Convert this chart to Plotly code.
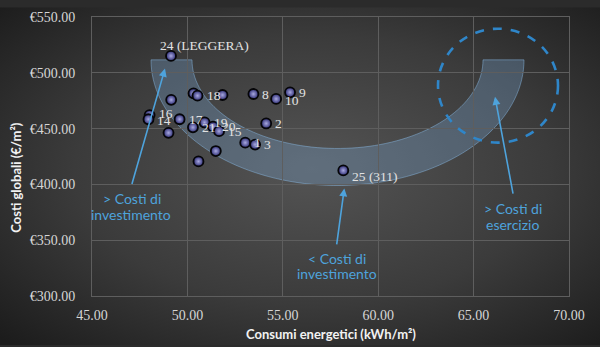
import base64
import numpy as np
import plotly.graph_objects as go

# ---------------- data ----------------
consumi = [49.14, 48.02, 47.96, 49.15, 50.32, 50.53, 51.84, 53.46, 54.65, 55.38, 49.59,
           50.29, 49.01, 50.90, 51.34, 51.66, 54.13, 53.03, 53.55, 51.49, 50.58, 58.17]
costi = [515.1, 462.1, 458.4, 475.8, 481.6, 479.5, 480.1, 481.0, 476.6, 482.5, 458.4,
         451.1, 446.2, 455.5, 451.7, 447.7, 454.6, 437.4, 435.7, 429.9, 420.6, 412.5]
etichette = ["24 (LEGGERA)", "16", "14", "", "", "18", "", "8", "10", "9", "17",
             "21", "", "19", "20", "15", "2", "1", "3", "", "", "25 (311)"]

x_ticks = [45, 50, 55, 60, 65, 70]
y_ticks = [300, 350, 400, 450, 500, 550]
x_ticktext = [f"{v:.2f}" for v in x_ticks]
y_ticktext = [f"€{v:.2f}" for v in y_ticks]

# ---------------- geometry helpers (decorations only) ----------------
W, H = 600, 347
ML, MR, MT, MB = 92, 31, 10, 50.5
PW, PH = W - ML - MR, H - MT - MB
XR, YR = (45, 70), (300, 550)


def px2x(px):
    return XR[0] + (px - ML) / PW * (XR[1] - XR[0])


def px2y(py):
    return YR[1] - (py - MT) / PH * (YR[1] - YR[0])


# background radial gradient via svg image
svg = ('<svg xmlns="http://www.w3.org/2000/svg" width="600" height="347">'
       '<defs><radialGradient id="g" cx="0.52" cy="0.48" r="0.72">'
       '<stop offset="0" stop-color="#545454"/>'
       '<stop offset="0.55" stop-color="#3b3b3b"/>'
       '<stop offset="1" stop-color="#1c1c1c"/>'
       '</radialGradient></defs>'
       '<rect width="600" height="347" fill="url(#g)"/></svg>')
bg_src = "data:image/svg+xml;base64," + base64.b64encode(svg.encode()).decode()

fig = go.Figure()

fig.add_trace(go.Scatter(
    x=consumi, y=costi, mode="markers",
    marker=dict(size=10, color="#2c2c72",
                gradient=dict(type="radial", color="#a8a8e0"),
                line=dict(color="#050508", width=1.8)),
    hoverinfo="skip", showlegend=False,
))

# point labels
label_shift = {"24 (LEGGERA)": (-13, 10), "10": (7, -2), "25 (311)": (7, -6),
               "16": (7, 2), "14": (7, -1)}
annotations = []
for xv, yv, t in zip(consumi, costi, etichette):
    if not t:
        continue
    dx, dy = label_shift.get(t, (7, 0))
    annotations.append(dict(
        x=xv, y=yv, text=t, showarrow=False, xanchor="left", yanchor="middle",
        xshift=dx, yshift=dy,
        font=dict(family="Liberation Serif", size=13.5, color="#e2e2e2")))

# band (half elliptical annulus)
cx = px2x(337.5)
top = px2y(54)
rox, roy = px2x(524) - cx, top - px2y(183)
rix, riy = px2x(483) - cx, top - px2y(145)
t = np.linspace(np.pi, 2 * np.pi, 80)
outer = [(cx + rox * np.cos(a), top + roy * np.sin(a)) for a in t]
inner = [(cx + rix * np.cos(a), top + riy * np.sin(a)) for a in t[::-1]]
pts = outer + inner
path = "M " + " L ".join(f"{a:.4f},{b:.4f}" for a, b in pts) + " Z"

shapes = [
    dict(type="path", path=path, xref="x", yref="y", layer="below",
         fillcolor="rgba(130,180,230,0.28)",
         line=dict(color="rgba(140,190,235,0.45)", width=1)),
    dict(type="circle", xref="x", yref="y",
         x0=px2x(438), x1=px2x(558), y0=px2y(139), y1=px2y(22),
         line=dict(color="#2f86c9", width=2.6, dash="dash")),
]

ARROW = "#4ea3dc"
arrows = [((165, 63), (131.5, 183)), ((344.3, 186), (336.5, 245)), ((495, 92), (513.3, 193))]
for (tx, ty), (sx, sy) in arrows:
    annotations.append(dict(
        x=px2x(tx), y=px2y(ty), ax=px2x(sx), ay=px2y(sy), axref="x", ayref="y",
        xref="x", yref="y", text="", showarrow=True, arrowhead=2, arrowsize=1,
        arrowwidth=1.6, arrowcolor=ARROW, standoff=0, startstandoff=0))

texts = [("> Costi di", 132.3, 196.5), ("investimento", 130.7, 213.3),
         ("< Costi di", 336.7, 257.5), ("investimento", 336.7, 273.3),
         ("> Costi di", 513.3, 206.5), ("esercizio", 512.7, 223.0)]
for s, tx, ty in texts:
    annotations.append(dict(
        x=px2x(tx), y=px2y(ty), xref="x", yref="y", text=s, showarrow=False,
        xanchor="center", yanchor="middle",
        font=dict(family="Lato", size=14, color=ARROW)))

# axis titles
annotations.append(dict(
    x=(16 - ML) / PW, y=1 - (175 - MT) / PH, xref="paper", yref="paper",
    text="<b>Costi globali (€/m²)</b>", textangle=-90, showarrow=False,
    xanchor="center", yanchor="middle",
    font=dict(family="Lato", size=13, color="#f2f2f2")))
annotations.append(dict(
    x=0.5, y=1 - (336 - MT) / PH, xref="paper", yref="paper",
    text="<b>Consumi energetici (kWh/m²)</b>", showarrow=False,
    xanchor="center", yanchor="middle",
    font=dict(family="Lato", size=13, color="#f2f2f2")))

GRID = "#5e5e5e"
TICKFONT = dict(family="Liberation Serif, serif", size=14, color="#d6d6d6")
fig.update_layout(
    width=W, height=H,
    margin=dict(l=ML, r=MR, t=MT, b=MB, pad=0),
    paper_bgcolor="#2b2b2b", plot_bgcolor="rgba(0,0,0,0)",
    shapes=shapes, annotations=annotations,
    images=[dict(source=bg_src, xref="paper", yref="paper",
                 x=-ML / PW, y=1 + MT / PH, sizex=W / PW, sizey=H / PH,
                 xanchor="left", yanchor="top", sizing="stretch", layer="below")],
    xaxis=dict(range=list(XR), tickmode="array", tickvals=x_ticks, ticktext=x_ticktext,
               showgrid=True, gridcolor=GRID, gridwidth=1, zeroline=False,
               showline=True, linecolor=GRID, mirror=True, ticks="",
               ticklabelstandoff=6, tickfont=TICKFONT),
    yaxis=dict(range=list(YR), tickmode="array", tickvals=y_ticks, ticktext=y_ticktext,
               showgrid=True, gridcolor=GRID, gridwidth=1, zeroline=False,
               showline=True, linecolor=GRID, mirror=True, ticks="",
               ticklabelstandoff=13, tickfont=TICKFONT),
)

fig.write_html("out.html")
